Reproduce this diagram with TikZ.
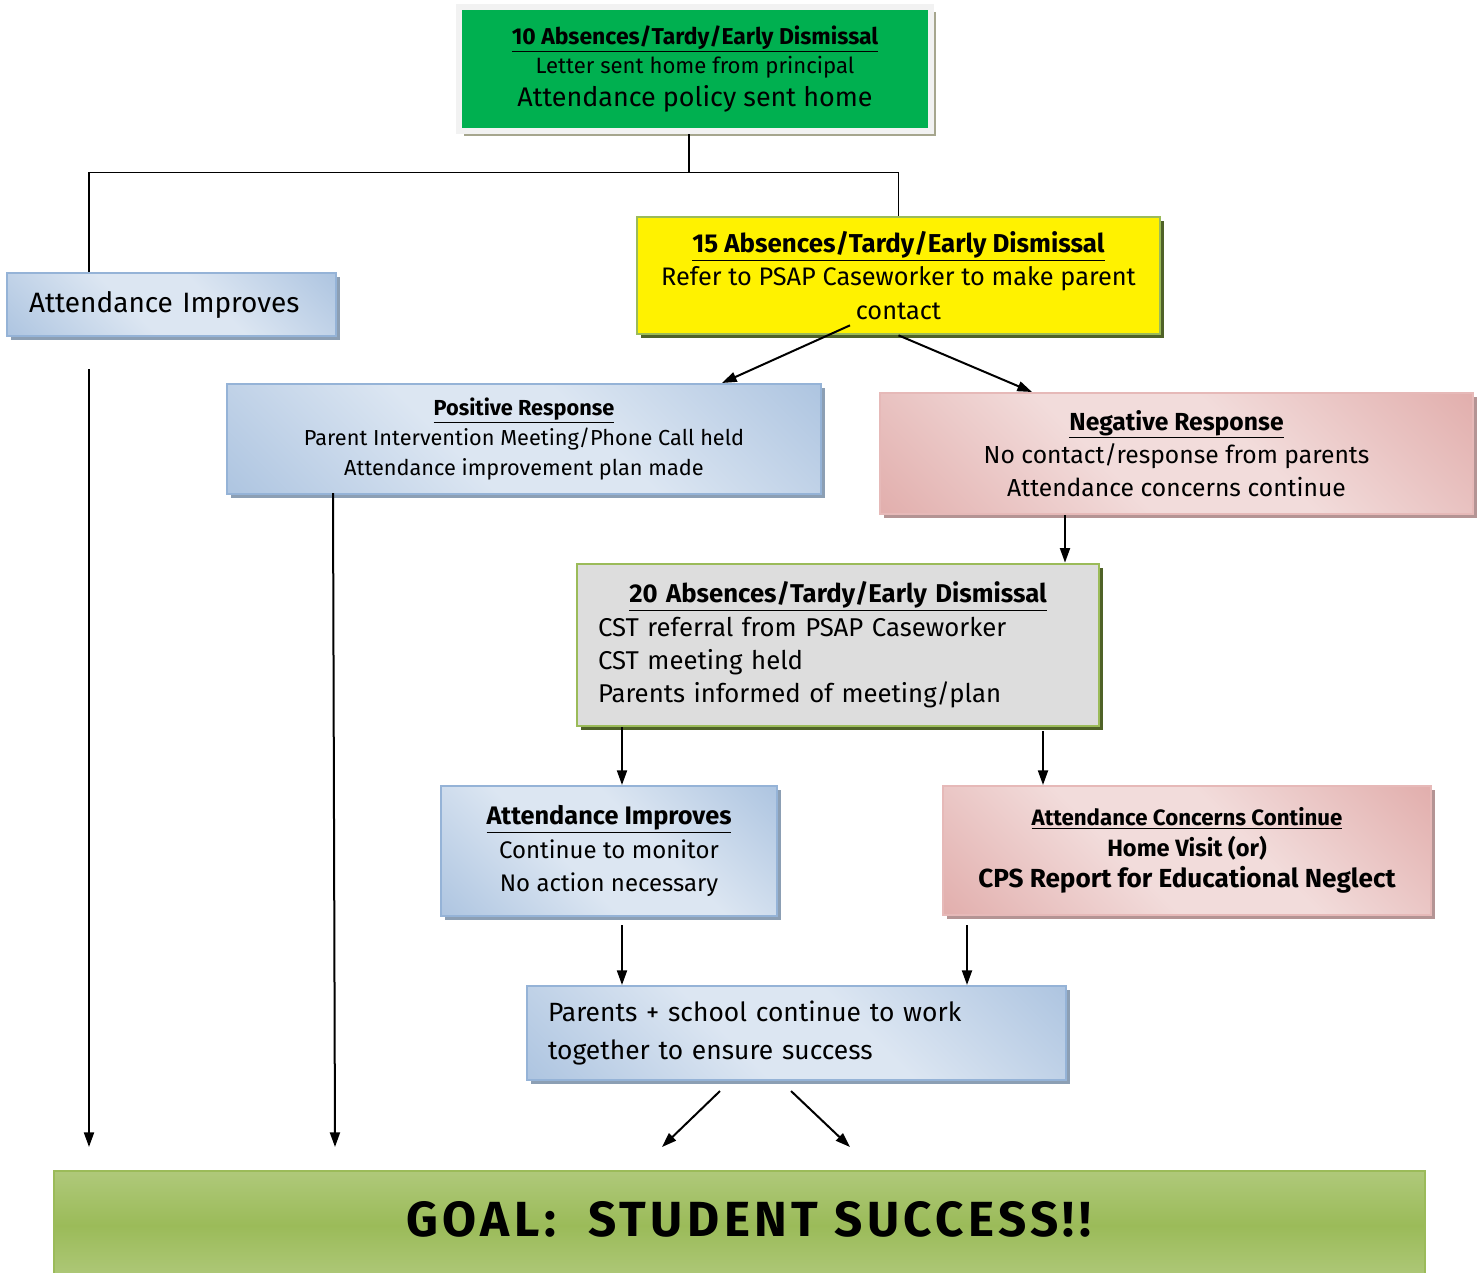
\documentclass[tikz,border=0pt]{standalone}
\usepackage{fontspec}
\setmainfont{Fira Sans}
\usetikzlibrary{arrows.meta,calc,shadows}

\definecolor{topgreen}{HTML}{00B050}
\definecolor{topframe}{HTML}{F2F2F2}
\definecolor{topshadow}{HTML}{A6A68E}
\definecolor{blueD}{HTML}{95B3D7}
\definecolor{blueL}{HTML}{DCE6F2}
\definecolor{blueshadow}{HTML}{8C9FB4}
\definecolor{redD}{HTML}{D99694}
\definecolor{redL}{HTML}{F2DCDB}
\definecolor{redline}{HTML}{E6B9B8}
\definecolor{redshadow}{HTML}{B49494}
\definecolor{oliveline}{HTML}{9BBB59}
\definecolor{oliveshadow}{HTML}{4F6228}
\definecolor{cstgray}{HTML}{DDDDDD}
\definecolor{goalD}{HTML}{9BBB59}
\definecolor{goalL}{HTML}{C3D69B}

\pgfdeclarehorizontalshading{bluewash}{100bp}{color(0bp)=(blueD); color(42bp)=(blueL); color(58bp)=(blueL); color(100bp)=(blueD)}
\pgfdeclarehorizontalshading{redwash}{100bp}{color(0bp)=(redD); color(42bp)=(redL); color(58bp)=(redL); color(100bp)=(redD)}
\pgfdeclareverticalshading{goalwash}{100bp}{color(0bp)=(goalL); color(50bp)=(goalD); color(100bp)=(goalL)}

\newcommand\fsz[2]{\fontsize{#1}{#2}\selectfont}

\tikzset{every picture/.style={line width=0.75pt}}
\tikzset{
  box/.style={draw, line width=1.5pt, inner sep=0pt, align=center},
  topbox/.style={box, fill=topgreen, draw=topframe, line width=5pt,
    general shadow={fill=topshadow, shadow xshift=4pt, shadow yshift=-4pt}},
  bluebox/.style={box, draw=blueD, shading=bluewash, shading angle=45,
    general shadow={fill=blueshadow, shadow xshift=3pt, shadow yshift=-3pt}},
  redbox/.style={box, draw=redline, shading=redwash, shading angle=45,
    general shadow={fill=redshadow, shadow xshift=3pt, shadow yshift=-3pt}},
  olivebox/.style={box, draw=oliveline, line width=2pt,
    general shadow={fill=oliveshadow, shadow xshift=3pt, shadow yshift=-3pt}},
  goalbox/.style={box, draw=goalD, shading=goalwash},
  conn/.style={line width=1.2pt},
  arr/.style={line width=1.5pt, -{Triangle[length=11pt,width=7.5pt]}}
}

\begin{document}
\begin{tikzpicture}[x=0.75pt,y=0.75pt,yscale=-1,xscale=1]
\useasboundingbox (0,0) rectangle (1481,1272);

% boxes
\node[topbox, minimum width=354pt, minimum height=93pt, font=\fsz{16.6}{22}] (top) at (695,69)
  {{\fsz{17.2}{22}\bfseries\underline{10 Absences/Tardy/Early Dismissal}}\\ Letter sent home from principal\\[3pt] {\fsz{20.2}{22}Attendance policy sent home}};
\node[bluebox, minimum width=246.75pt, minimum height=47.25pt, text width=213.75pt, align=left, font=\fsz{21}{24}] (attL) at (171.5,304.5) {Attendance Improves};
\node[olivebox, fill=yellow, minimum width=392.25pt, minimum height=87.75pt, font=\fsz{19}{25}] (yellow) at (898.5,275.5)
  {{\fsz{19.4}{25}\bfseries\underline{15 Absences/Tardy/Early Dismissal}}\\ Refer to PSAP Caseworker to make parent\\ contact};
\node[bluebox, minimum width=445.5pt, minimum height=82.5pt, font=\fsz{16.3}{22.5}] (pos) at (524,439)
  {{\bfseries\underline{Positive Response}}\\ Parent Intervention Meeting/Phone Call held\\ Attendance improvement plan made};
\node[redbox, minimum width=444.75pt, minimum height=90.75pt, font=\fsz{18.5}{25}] (neg) at (1176.5,453.5)
  {{\bfseries\underline{Negative Response}}\\ No contact/response from parents\\ Attendance concerns continue};
\node[olivebox, fill=cstgray, minimum width=391.5pt, minimum height=121.5pt, text width=360pt, align=left, font=\fsz{19.3}{25}] (cst) at (838,645)
  {\makebox[\linewidth]{\bfseries\underline{20 Absences/Tardy/Early Dismissal}}\\ CST referral from PSAP Caseworker\\ CST meeting held\\ Parents informed of meeting/plan};
\node[bluebox, minimum width=252pt, minimum height=97.5pt, font=\fsz{18}{25}] (attR) at (609,851)
  {{\fsz{19}{25}\bfseries\underline{Attendance Improves}}\\ Continue to monitor\\ No action necessary};
\node[redbox, minimum width=366pt, minimum height=96.75pt, font=\fsz{16.7}{23}] (concern) at (1187,850.5)
  {{\bfseries\underline{Attendance Concerns Continue}}\\ {\fsz{17.7}{23}\bfseries Home Visit (or)}\\ {\fsz{19.6}{23}\bfseries CPS Report for Educational Neglect}};
\node[bluebox, minimum width=404.25pt, minimum height=70.5pt, text width=372.75pt, align=left, font=\fsz{19.8}{28}] (parents) at (796.5,1033)
  {Parents + school continue to work\\ together to ensure success};
\node[goalbox, minimum width=1028.25pt, minimum height=81.75pt, font=\fsz{37}{40}\bfseries\addfontfeature{LetterSpace=9}] (goal) at (739.5,1225.5)
  {\raisebox{4.5pt}[\height][\depth]{\hspace*{14pt}GOAL:\ \ STUDENT SUCCESS!!}};

% fork from the first letter
\draw[conn] ($(top.south)+(-6,0)$) -- ++(0,38) coordinate (fork);
\draw[conn] ($(attL.north)+(-82.5,0)$) |- (fork) -| (yellow.north);

% arrows
\draw[arr] ($(yellow.south)+(-48.5,-10)$) -- ($(pos.north)+(198,0)$);
\draw[arr] (yellow.south) -- ($(neg.north)+(-144.5,0)$);
\draw[arr] ($(neg.south)+(-111.5,0)$) -- ($(cst.north)+(227,0)$);
\draw[arr] ($(cst.south)+(-216,0)$) -- ($(attR.north)+(13,0)$);
\draw[arr] ($(cst.south)+(205,4)$) -- ($(concern.north)+(-144,0)$);
\draw[arr] ($(attR.south)+(13,8)$) -- ($(parents.north)+(-174.5,0)$);
\draw[arr] ($(concern.south)+(-220,9)$) -- ($(parents.north)+(170.5,0)$);
\draw[arr] ($(parents.south)+(-76.5,10)$) -- ($(goal.north)+(-77.5,-23)$);
\draw[arr] ($(parents.south)+(-5.5,10)$) -- ($(goal.north)+(110.5,-23)$);
\draw[arr] ($(attL.south)+(-82.5,32)$) -- ($(goal.north)+(-650.5,-23)$);
\draw[arr] ($(pos.south)+(-191,-2)$) -- ($(goal.north)+(-404.5,-23)$);

\end{tikzpicture}
\end{document}
